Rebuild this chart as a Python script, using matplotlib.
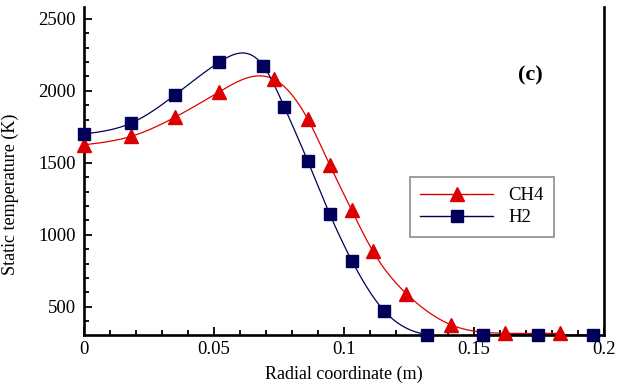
import numpy as np
import matplotlib
matplotlib.use("Agg")
import matplotlib.pyplot as plt
from matplotlib.ticker import MultipleLocator, FixedLocator
from matplotlib.lines import Line2D

# ---- data ----
ch4_x = [0.0, 0.018, 0.035, 0.052, 0.073, 0.086, 0.0945, 0.103, 0.111, 0.124, 0.141, 0.162, 0.183]
ch4_T = [1625, 1683, 1817, 1993, 2081, 1806, 1486, 1169, 889, 590, 375, 315, 315]
h2_x = [0.0, 0.018, 0.035, 0.052, 0.069, 0.077, 0.086, 0.0945, 0.103, 0.1154, 0.132, 0.1533, 0.1745, 0.1957]
h2_T = [1700, 1775, 1972, 2199, 2173, 1890, 1515, 1144, 820, 472, 305, 303, 303, 303]
x_ticks = [0, 0.05, 0.1, 0.15, 0.2]
x_tick_labels = ["0", "0.05", "0.1", "0.15", "0.2"]
y_ticks = [500, 1000, 1500, 2000, 2500]


def natural_spline(x, y, n=400):
    x = np.asarray(x, float); y = np.asarray(y, float)
    k = len(x)
    h = np.diff(x)
    A = np.zeros((k, k)); b = np.zeros(k)
    A[0, 0] = 1; A[-1, -1] = 1
    for i in range(1, k - 1):
        A[i, i - 1] = h[i - 1]
        A[i, i] = 2 * (h[i - 1] + h[i])
        A[i, i + 1] = h[i]
        b[i] = 6 * ((y[i + 1] - y[i]) / h[i] - (y[i] - y[i - 1]) / h[i - 1])
    M = np.linalg.solve(A, b)
    xs = np.linspace(x[0], x[-1], n)
    idx = np.clip(np.searchsorted(x, xs) - 1, 0, k - 2)
    x0 = x[idx]; x1 = x[idx + 1]; hh = h[idx]
    ys = (M[idx] * (x1 - xs) ** 3 / (6 * hh) + M[idx + 1] * (xs - x0) ** 3 / (6 * hh)
          + (y[idx] / hh - M[idx] * hh / 6) * (x1 - xs)
          + (y[idx + 1] / hh - M[idx + 1] * hh / 6) * (xs - x0))
    return xs, ys


plt.rcParams['font.family'] = ['Liberation Serif', 'DejaVu Serif']

fig = plt.figure(figsize=(6.25, 3.86), dpi=100)
ax = fig.add_axes([84 / 625, 1 - 335 / 386, (604 - 84) / 625, (335 - 7) / 386])

red = '#dd0000'
navy = '#00005a'

xs, ys = natural_spline(ch4_x, ch4_T)
ax.plot(xs, ys, color=red, lw=0.9, zorder=2)
xs, ys = natural_spline(h2_x, h2_T)
ax.plot(xs, ys, color=navy, lw=0.9, zorder=2)

ax.plot(ch4_x, ch4_T, linestyle='none', marker='^', ms=9.5, color=red, mec=red, clip_on=False, zorder=4)
ax.plot(h2_x, h2_T, linestyle='none', marker='s', ms=8, color=navy, mec=navy, clip_on=False, zorder=4)

ax.set_xlim(0, 0.2)
ax.set_ylim(303, 2583)

ax.xaxis.set_major_locator(FixedLocator(x_ticks))
ax.set_xticklabels(x_tick_labels)
ax.xaxis.set_minor_locator(MultipleLocator(0.01))
ax.yaxis.set_major_locator(FixedLocator(y_ticks))
ax.yaxis.set_minor_locator(MultipleLocator(100))

ax.tick_params(which='both', direction='in', top=False, right=False, labelsize=13.5, width=1.3)
ax.tick_params(which='major', length=6)
ax.tick_params(axis='x', which='major', pad=4)
ax.tick_params(axis='y', which='major', pad=6)
ax.tick_params(which='minor', length=3.5)

for s in ['left', 'bottom', 'right']:
    ax.spines[s].set_linewidth(1.9)
ax.spines['top'].set_visible(False)

ax.set_xlabel('Radial coordinate (m)', fontsize=13)
ax.set_ylabel('Static temperature (K)', fontsize=13)
ax.yaxis.set_label_coords(-0.125, 0.43)
ax.xaxis.set_label_coords(0.5, -0.095)

fig.text(530 / 625, 1 - 75 / 386, '(c)', fontsize=16, fontweight='bold', ha='center', va='center')

handles = [Line2D([], [], color=red, lw=1, marker='^', ms=9.5),
           Line2D([], [], color=navy, lw=1, marker='s', ms=8)]
leg = ax.legend(handles, ['CH4', 'H2'], loc='upper left',
                bbox_to_anchor=(410 / 625, 1 - 177 / 386), bbox_transform=fig.transFigure,
                fontsize=13.5, frameon=True, fancybox=False, edgecolor='#707070',
                handlelength=3.9, handletextpad=0.8, borderpad=0.55, labelspacing=0.25,
                borderaxespad=0)
leg.get_frame().set_linewidth(1.2)

fig.savefig('out.png', dpi=100)
